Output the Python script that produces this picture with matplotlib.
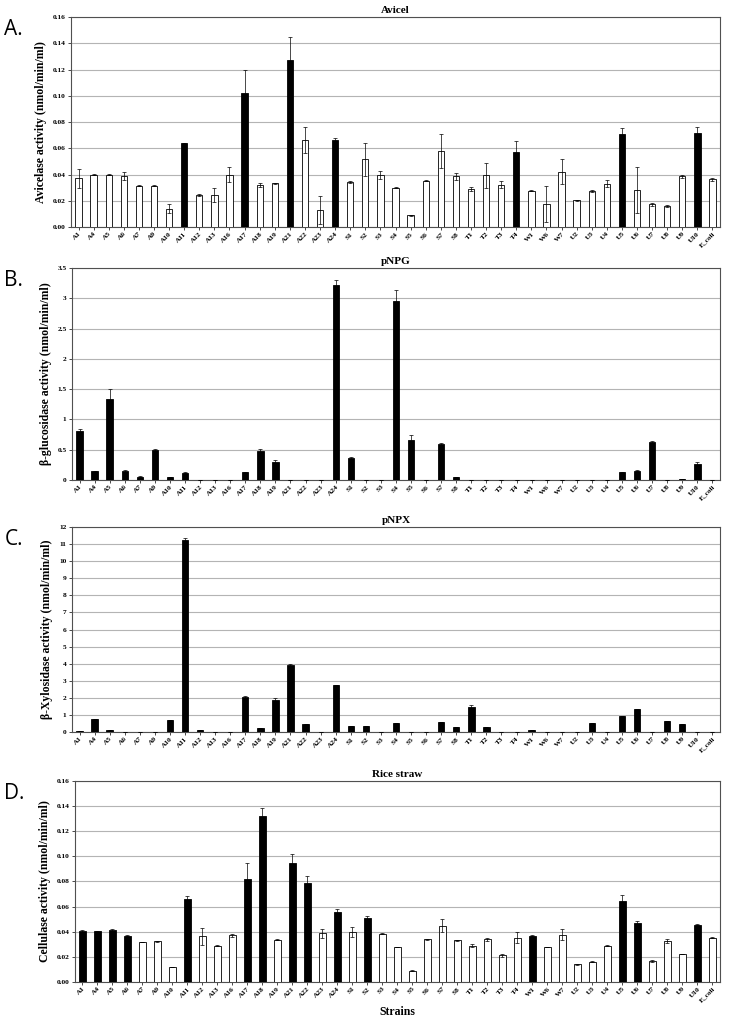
import matplotlib
matplotlib.use("Agg")
import matplotlib.pyplot as plt
from matplotlib.ticker import FormatStrFormatter, MultipleLocator

# strains on the x axis
strains = ["A1", "A4", "A5", "A6", "A7", "A9", "A10", "A11", "A12", "A13", "A16",
           "A17", "A18", "A19", "A21", "A22", "A23", "A24", "S1", "S2", "S3", "S4",
           "S5", "S6", "S7", "S8", "T1", "T2", "T3", "T4", "W1", "W6", "W7", "U2",
           "U3", "U4", "U5", "U6", "U7", "U8", "U9", "U10", "E_coli"]

# Avicel
avicel = [0.037, 0.040, 0.040, 0.039, 0.0315, 0.0315, 0.014, 0.064, 0.0245, 0.0245, 0.040,
          0.102, 0.032, 0.0335, 0.127, 0.0665, 0.013, 0.066, 0.0345, 0.0515, 0.0395, 0.030,
          0.0089, 0.0354, 0.0576, 0.0385, 0.0293, 0.0395, 0.0324, 0.057, 0.0278, 0.0178, 0.0423, 0.0204,
          0.0275, 0.0331, 0.0711, 0.028, 0.0173, 0.016, 0.0385, 0.0718, 0.0364]
avicel_err = [0.007, 0.0003, 0.0003, 0.003, 0.0003, 0.0003, 0.0035, 0.0004, 0.0005, 0.0055, 0.0055,
              0.018, 0.0015, 0.0004, 0.018, 0.010, 0.011, 0.0015, 0.0008, 0.0127, 0.003, 0.0003,
              0.0003, 0.0003, 0.013, 0.0025, 0.0015, 0.0094, 0.0025, 0.0087, 0.0005, 0.0138, 0.0094, 0.0003,
              0.0005, 0.0025, 0.0046, 0.0176, 0.001, 0.0005, 0.0015, 0.0044, 0.001]
avicel_black = ["A11", "A17", "A21", "A24", "T4", "U5", "U10"]

# pNPG
pnpg = [0.815, 0.143, 1.343, 0.149, 0.055, 0.495, 0.05, 0.121, 0.005, 0.0, 0.0,
        0.127, 0.473, 0.30, 0.0, 0.0, 0.0, 3.22, 0.363, 0.0, 0.0, 2.96,
        0.655, 0.005, 0.594, 0.05, 0.0, 0.003, 0.0, 0.0, 0.0, 0.0, 0.0, 0.0,
        0.0, 0.0, 0.127, 0.154, 0.627, 0.0, 0.017, 0.26, 0.0]
pnpg_err = [0.03, 0.01, 0.16, 0.01, 0.005, 0.01, 0.005, 0.01, 0.0, 0.0, 0.0,
            0.01, 0.03, 0.03, 0.0, 0.0, 0.0, 0.08, 0.01, 0.0, 0.0, 0.18,
            0.08, 0.0, 0.01, 0.005, 0.0, 0.0, 0.0, 0.0, 0.0, 0.0, 0.0, 0.0,
            0.0, 0.0, 0.01, 0.01, 0.01, 0.0, 0.005, 0.03, 0.0]

# pNPX
pnpx = [0.08, 0.74, 0.10, 0.02, 0.0, 0.01, 0.70, 11.25, 0.14, 0.0, 0.0,
        2.07, 0.25, 1.87, 3.9, 0.49, 0.02, 2.73, 0.33, 0.33, 0.0, 0.51,
        0.0, 0.0, 0.59, 0.31, 1.44, 0.29, 0.0, 0.0, 0.10, 0.0, 0.03, 0.0,
        0.51, 0.02, 0.94, 1.35, 0.0, 0.66, 0.47, 0.0, 0.0]
pnpx_err = [0.0, 0.0, 0.0, 0.0, 0.0, 0.0, 0.0, 0.08, 0.0, 0.0, 0.0,
            0.06, 0.0, 0.1, 0.07, 0.0, 0.0, 0.0, 0.0, 0.0, 0.0, 0.0,
            0.0, 0.0, 0.0, 0.0, 0.16, 0.0, 0.0, 0.0, 0.0, 0.0, 0.0, 0.0,
            0.0, 0.0, 0.0, 0.0, 0.0, 0.0, 0.0, 0.0, 0.0]

# Rice straw
rice = [0.0403, 0.0403, 0.0414, 0.0369, 0.0318, 0.0324, 0.0119, 0.0663, 0.0363, 0.0289, 0.0371,
        0.082, 0.1318, 0.0337, 0.0944, 0.0785, 0.0387, 0.0557, 0.040, 0.0509, 0.0385, 0.0278,
        0.009, 0.034, 0.0448, 0.0332, 0.0289, 0.034, 0.0212, 0.0353, 0.0369, 0.0278, 0.0377, 0.0141,
        0.0162, 0.0289, 0.0645, 0.0467, 0.0167, 0.0326, 0.0223, 0.0456, 0.0353]
rice_err = [0.001, 0.0003, 0.0008, 0.0003, 0.0003, 0.0003, 0.0002, 0.002, 0.0065, 0.0003, 0.0015,
            0.013, 0.0064, 0.0003, 0.0072, 0.0058, 0.0035, 0.0027, 0.004, 0.0015, 0.0003, 0.0003,
            0.0002, 0.0003, 0.005, 0.0003, 0.001, 0.0013, 0.001, 0.0045, 0.0003, 0.0003, 0.0045, 0.0002,
            0.0002, 0.0003, 0.005, 0.0015, 0.001, 0.0015, 0.0003, 0.0003, 0.0003]
rice_black = ["A1", "A4", "A5", "A6", "A11", "A17", "A18", "A21", "A22", "A24", "S2",
              "W1", "U5", "U6", "U10"]

SERIF = "Liberation Serif"

fig = plt.figure(figsize=(7.30, 10.19), dpi=100)


def panel(rect, letter, title, values, errs, black, ylabel, ymax, ystep, fmt, xlabel=None):
    ax = fig.add_axes(rect)
    x = list(range(len(strains)))
    colors = ["black" if (black is None or s in black) else "white" for s in strains]
    ax.bar(x, values, width=0.42, color=colors, edgecolor="black", linewidth=0.6, zorder=3)
    ax.errorbar(x, values, yerr=errs, fmt="none", ecolor="black", elinewidth=0.5,
                capsize=1.5, capthick=0.5, zorder=4)
    ax.set_xlim(-0.5, len(strains) - 0.5)
    ax.set_ylim(0, ymax)
    ax.yaxis.set_major_locator(MultipleLocator(ystep))
    ax.yaxis.set_major_formatter(FormatStrFormatter(fmt))
    ax.grid(axis="y", color="#b4b4b4", linewidth=0.8, zorder=0)
    ax.set_xticks(x)
    ax.set_xticklabels(strains, rotation=45, ha="right", rotation_mode="anchor",
                       fontsize=5.3, fontfamily=SERIF, fontweight="bold")
    for lab in ax.get_yticklabels():
        lab.set_fontsize(5.3)
        lab.set_fontfamily(SERIF)
        lab.set_fontweight("bold")
    ax.tick_params(axis="x", length=2, width=0.5, pad=1)
    ax.tick_params(axis="y", length=2, width=0.5, pad=2)
    for sp in ax.spines.values():
        sp.set_linewidth(0.8)
        sp.set_color("#505050")
    ax.set_ylabel(ylabel, fontsize=8.5, fontfamily=SERIF, fontweight="bold", labelpad=4)
    ax.set_title(title, fontsize=8, fontfamily=SERIF, fontweight="bold", pad=3)
    if xlabel:
        ax.set_xlabel(xlabel, fontsize=8.5, fontfamily=SERIF, fontweight="bold", labelpad=2)
    pos = ax.get_position()
    fig.text(0.006, pos.y1 - 0.012, letter, fontsize=15, fontfamily="Open Sans", va="center")
    return ax


panel([0.0973, 0.7772, 0.889, 0.2061], "A.", "Avicel", avicel, avicel_err, avicel_black,
      "Avicelase activity (nmol/min/ml)", 0.16, 0.02, "%.2f")
panel([0.0986, 0.529, 0.8877, 0.208], "B.", "pNPG", pnpg, pnpg_err, None,
      "β-glucosidase activity (nmol/min/ml)", 3.5, 0.5, "%g")
panel([0.0986, 0.2816, 0.8877, 0.2012], "C.", "pNPX", pnpx, pnpx_err, None,
      "β-Xylosidase activity (nmol/min/ml)", 12, 1, "%d")
panel([0.1027, 0.0363, 0.8836, 0.1973], "D.", "Rice straw", rice, rice_err, rice_black,
      "Cellulase activity (nmol/min/ml)", 0.16, 0.02, "%.2f", xlabel="Strains")

fig.savefig("out.png", dpi=100)
